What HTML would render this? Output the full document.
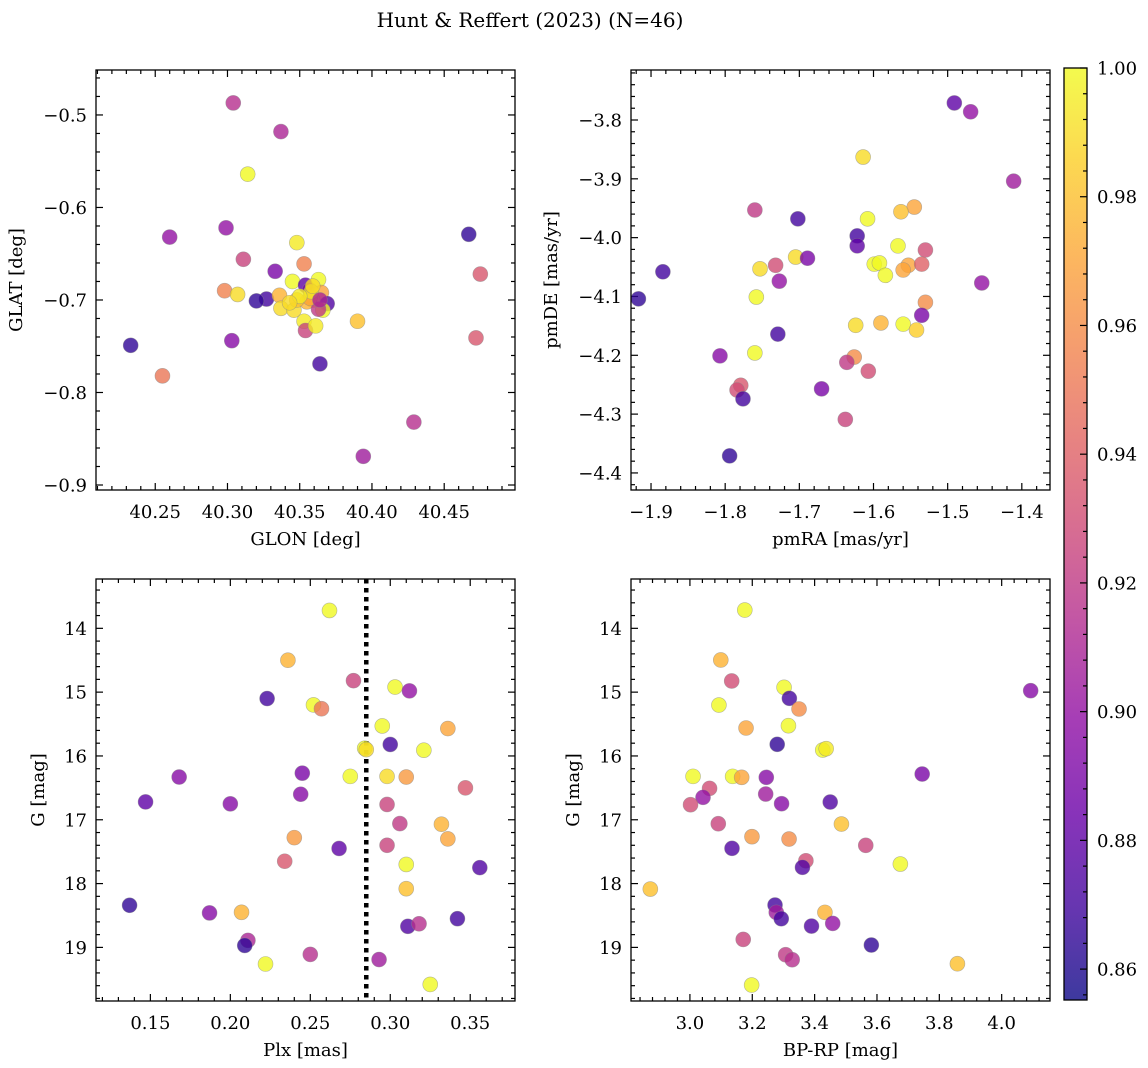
<!DOCTYPE html>
<html><head><meta charset="utf-8">
<style>
html,body{margin:0;padding:0;background:#fff;}
svg{display:block;font-family:"DejaVu Serif","Liberation Serif",serif;}
</style></head>
<body>
<svg id="fig" width="1148" height="1068" viewBox="0 0 1148 1068" xmlns="http://www.w3.org/2000/svg">
<rect width="1148" height="1068" fill="#fff"/>
<text x="530" y="27" font-size="20" text-anchor="middle">Hunt &amp; Reffert (2023) (N=46)</text>
</svg>
<script>
// ---- data (membership probability colours) ----
const p1Glon = [40.304,40.337,40.314,40.260,40.299,40.348,40.311,40.353,40.333,40.298,40.307,40.327,40.320,40.336,40.337,40.346,40.345,40.354,40.357,40.363,40.365,40.369,40.366,40.353,40.354,40.361,40.359,40.355,40.363,40.357,40.390,40.364,40.233,40.255,40.303,40.394,40.429,40.467,40.475,40.472,40.358,40.348,40.364,40.350,40.359,40.343];
const p1Glat = [-0.487,-0.518,-0.564,-0.632,-0.622,-0.638,-0.656,-0.661,-0.669,-0.690,-0.694,-0.699,-0.701,-0.695,-0.709,-0.711,-0.680,-0.684,-0.689,-0.678,-0.692,-0.704,-0.711,-0.723,-0.733,-0.728,-0.700,-0.702,-0.710,-0.698,-0.723,-0.769,-0.749,-0.782,-0.744,-0.869,-0.832,-0.629,-0.672,-0.741,-0.691,-0.700,-0.700,-0.696,-0.685,-0.703];
const p1Prob = [0.915,0.91,1.0,0.90,0.90,0.995,0.925,0.955,0.89,0.955,0.99,0.87,0.865,0.975,0.99,0.99,1.0,0.88,0.89,1.0,0.97,0.875,1.0,0.995,0.925,0.995,0.98,0.975,0.92,0.97,0.98,0.87,0.865,0.95,0.895,0.905,0.915,0.865,0.935,0.935,0.995,0.98,0.91,0.995,0.99,0.99];

const p2PmRA = [-1.491,-1.469,-1.411,-1.614,-1.545,-1.563,-1.608,-1.702,-1.760,-1.622,-1.622,-1.567,-1.530,-1.705,-1.689,-1.732,-1.753,-1.599,-1.592,-1.553,-1.535,-1.560,-1.584,-1.884,-1.758,-1.727,-1.530,-1.454,-1.917,-1.535,-1.590,-1.560,-1.542,-1.624,-1.729,-1.760,-1.807,-1.626,-1.636,-1.607,-1.670,-1.779,-1.784,-1.776,-1.638,-1.794];
const p2PmDE = [-3.771,-3.786,-3.904,-3.863,-3.948,-3.956,-3.968,-3.968,-3.953,-3.997,-4.014,-4.014,-4.021,-4.033,-4.035,-4.047,-4.053,-4.045,-4.043,-4.047,-4.045,-4.055,-4.064,-4.058,-4.101,-4.074,-4.110,-4.077,-4.104,-4.132,-4.145,-4.147,-4.157,-4.149,-4.164,-4.196,-4.201,-4.203,-4.212,-4.227,-4.257,-4.251,-4.259,-4.274,-4.309,-4.371];
const p2Prob = [0.88,0.90,0.905,0.99,0.97,0.98,1.0,0.87,0.92,0.87,0.88,1.0,0.93,0.99,0.89,0.93,0.99,1.0,1.0,0.97,0.94,0.97,1.0,0.87,1.0,0.90,0.96,0.90,0.865,0.89,0.975,1.0,0.985,0.99,0.87,1.0,0.895,0.96,0.92,0.93,0.89,0.935,0.93,0.87,0.925,0.865];

const p3Plx = [0.262,0.236,0.277,0.223,0.252,0.257,0.303,0.312,0.295,0.336,0.284,0.300,0.321,0.168,0.275,0.298,0.310,0.245,0.147,0.200,0.244,0.298,0.347,0.306,0.332,0.240,0.298,0.336,0.268,0.234,0.310,0.356,0.310,0.137,0.187,0.207,0.211,0.209,0.222,0.250,0.293,0.325,0.311,0.318,0.342,0.285];
const p3G = [13.72,14.50,14.82,15.10,15.20,15.26,14.92,14.98,15.53,15.57,15.88,15.82,15.91,16.33,16.32,16.32,16.33,16.27,16.72,16.75,16.60,16.76,16.50,17.06,17.07,17.28,17.40,17.30,17.45,17.65,17.70,17.75,18.08,18.34,18.46,18.45,18.89,18.97,19.26,19.11,19.19,19.58,18.67,18.63,18.55,15.90];
const p3Prob = [1.0,0.975,0.925,0.87,1.0,0.95,1.0,0.90,1.0,0.97,1.0,0.87,1.0,0.895,1.0,0.99,0.965,0.89,0.88,0.895,0.895,0.925,0.935,0.92,0.975,0.965,0.925,0.97,0.88,0.935,1.0,0.875,0.98,0.865,0.895,0.975,0.91,0.865,1.0,0.915,0.905,1.0,0.875,0.915,0.87,0.99];
const p3Cut = 0.285;

const p4BpRp = [3.176,3.099,3.134,3.302,3.319,3.350,4.093,3.093,3.316,3.180,3.280,3.426,3.437,3.745,3.010,3.137,3.166,3.245,3.063,3.042,3.002,3.243,3.294,3.450,3.486,3.091,3.199,3.318,3.564,3.135,3.372,3.361,3.675,2.873,3.273,3.277,3.293,3.433,3.390,3.458,3.582,3.171,3.307,3.328,3.858,3.198];
const p4G = [13.713,14.496,14.825,14.925,15.097,15.264,14.977,15.202,15.526,15.562,15.818,15.907,15.886,16.283,16.320,16.320,16.335,16.335,16.508,16.649,16.764,16.597,16.748,16.722,17.067,17.062,17.265,17.302,17.401,17.448,17.642,17.746,17.694,18.086,18.336,18.451,18.551,18.451,18.666,18.624,18.963,18.875,19.115,19.193,19.256,19.590];
const p4Prob = [1.0,0.975,0.93,1.0,0.87,0.96,0.895,1.0,1.0,0.97,0.865,1.0,0.995,0.89,1.0,1.0,0.97,0.895,0.93,0.9,0.93,0.905,0.895,0.875,0.98,0.925,0.965,0.96,0.925,0.875,0.93,0.875,1.0,0.98,0.87,0.905,0.87,0.975,0.875,0.9,0.865,0.925,0.92,0.915,0.98,1.0];

const p1XTicks = [40.25,40.30,40.35,40.40,40.45];
const p1YTicks = [-0.5,-0.6,-0.7,-0.8,-0.9];
const p2XTicks = [-1.9,-1.8,-1.7,-1.6,-1.5,-1.4];
const p2YTicks = [-3.8,-3.9,-4.0,-4.1,-4.2,-4.3,-4.4];
const p3XTicks = [0.15,0.20,0.25,0.30,0.35];
const gTicks = [14,15,16,17,18,19];
const p4XTicks = [3.0,3.2,3.4,3.6,3.8,4.0];
const cbTicks = [0.86,0.88,0.90,0.92,0.94,0.96,0.98,1.00];

const CMIN = 0.8552, CMAX = 1.0;
const FS = 18;
const NS = 'http://www.w3.org/2000/svg';
const svg = document.getElementById('fig');
const stops = [[13,8,135],[65,4,157],[106,0,168],[143,13,164],[177,42,144],[204,71,120],[225,100,98],[242,132,75],[252,166,54],[252,206,37],[240,249,33]];
function plasma(t){t=Math.max(0,Math.min(1,t));const f=t*10;const i=Math.min(9,Math.floor(f));const r=f-i;const a=stops[i],b=stops[i+1];
 return 'rgb('+a.map((v,k)=>Math.round(v+(b[k]-v)*r)).join(',')+')';}
function colorOf(p){return plasma((p-CMIN)/(CMAX-CMIN));}
function mk(tag,attrs,parent){const e=document.createElementNS(NS,tag);for(const k in attrs)e.setAttribute(k,attrs[k]);(parent||svg).appendChild(e);return e;}
function fmt(v,d){const s=Math.abs(v).toFixed(d);return (v<0?'\u2212':'')+s;}

function panel(cfg){
 const g=mk('g',{});
 
 
 const {x0,x1,y0,y1}=cfg;
 const sx=v=>x0+(v-cfg.xd[0])/(cfg.xd[1]-cfg.xd[0])*(x1-x0);
 const sy=cfg.yInv?(v=>y0+(v-cfg.yd[0])/(cfg.yd[1]-cfg.yd[0])*(y1-y0)):(v=>y1-(v-cfg.yd[0])/(cfg.yd[1]-cfg.yd[0])*(y1-y0));
 const tk=mk('g',{stroke:'#000','stroke-width':1.2},g);
 
 
 const lo=Math.min(...cfg.xd),hi=Math.max(...cfg.xd);
 for(let v=Math.ceil(lo/cfg.xm-1e-6)*cfg.xm;v<=hi+1e-9;v+=cfg.xm){const px=sx(v);
   const major=cfg.xt.some(t=>Math.abs(t-v)<cfg.xm/3);const L=major?7:4;
   mk('line',{x1:px,x2:px,y1:y1,y2:y1-L},tk);mk('line',{x1:px,x2:px,y1:y0,y2:y0+L},tk);}
 const ylo=Math.min(...cfg.yd),yhi=Math.max(...cfg.yd);
 for(let v=Math.ceil(ylo/cfg.ym-1e-6)*cfg.ym;v<=yhi+1e-9;v+=cfg.ym){const py=sy(v);
   const major=cfg.yt.some(t=>Math.abs(t-v)<cfg.ym/3);const L=major?7:4;
   mk('line',{x1:x0,x2:x0+L,y1:py,y2:py},tk);mk('line',{x1:x1,x2:x1-L,y1:py,y2:py},tk);}
 cfg.xt.forEach(t=>{const e=mk('text',{x:sx(t),y:y1+28,'font-size':FS,'text-anchor':'middle'},g);e.textContent=fmt(t,cfg.xdec);
   
   });
 cfg.yt.forEach(t=>{const e=mk('text',{x:x0-9,y:sy(t)+6.5,'font-size':FS,'text-anchor':'end'},g);e.textContent=fmt(t,cfg.ydec);
   
   });
 const xl=mk('text',{x:(x0+x1)/2,y:y1+55,'font-size':FS,'text-anchor':'middle'},g);xl.textContent=cfg.xlabel;
 
 
 const yx=cfg.ylx;const yc=(y0+y1)/2;
 const yl=mk('text',{x:yx,y:yc,'font-size':FS,'text-anchor':'middle',transform:'rotate(-90 '+yx+' '+yc+')'},g);yl.textContent=cfg.ylabel;
 
 
 if(cfg.vline!==undefined){const l=mk('line',{x1:sx(cfg.vline),x2:sx(cfg.vline),y1:y0,y2:y1,stroke:'#000','stroke-width':4.5,'stroke-dasharray':'4.5 4.5'},g);
   
   }
 cfg.xs.forEach((v,i)=>{const c=mk('circle',{cx:sx(v),cy:sy(cfg.ys[i]),r:7.5,fill:colorOf(cfg.cs[i]),'fill-opacity':0.8,stroke:'#888','stroke-opacity':0.6,'stroke-width':0.6},g);
   
   });
 const fr=mk('rect',{x:x0,y:y0,width:x1-x0,height:y1-y0,fill:'none',stroke:'#000','stroke-width':1.3},g);
 
 
}

panel({name:'glon-glat-panel',x0:96,x1:515,y0:70,y1:490,xd:[40.209,40.499],yd:[-0.9054,-0.4514],xt:p1XTicks,yt:p1YTicks,xm:0.01,ym:0.02,xdec:2,ydec:1,xlabel:'GLON [deg]',ylabel:'GLAT [deg]',ylx:22,xs:p1Glon,ys:p1Glat,cs:p1Prob});
panel({name:'proper-motion-panel',x0:631,x1:1050,y0:70,y1:490,xd:[-1.927,-1.362],yd:[-4.429,-3.715],xt:p2XTicks,yt:p2YTicks,xm:0.02,ym:0.02,xdec:1,ydec:1,xlabel:'pmRA [mas/yr]',ylabel:'pmDE [mas/yr]',ylx:557,xs:p2PmRA,ys:p2PmDE,cs:p2Prob});
panel({name:'parallax-mag-panel',x0:96,x1:515,y0:579,y1:1001,xd:[0.116,0.378],yd:[13.227,19.84],yInv:true,xt:p3XTicks,yt:gTicks,xm:0.01,ym:0.2,xdec:2,ydec:0,xlabel:'Plx [mas]',ylabel:'G [mag]',ylx:44,vline:p3Cut,xs:p3Plx,ys:p3G,cs:p3Prob});
panel({name:'cmd-panel',x0:631,x1:1050,y0:579,y1:1001,xd:[2.811,4.155],yd:[13.227,19.84],yInv:true,xt:p4XTicks,yt:gTicks,xm:0.04,ym:0.2,xdec:1,ydec:0,xlabel:'BP-RP [mag]',ylabel:'G [mag]',ylx:579,xs:p4BpRp,ys:p4G,cs:p4Prob});

// colorbar
(function(){
 const cx0=1064,cx1=1087,cy0=68,cy1=1000;
 const cb=mk('g',{});
 
 
 const defs=mk('defs',{},cb);
 const lg=mk('linearGradient',{id:'cbg',x1:0,y1:1,x2:0,y2:0},defs);
 for(let i=0;i<=20;i++){mk('stop',{offset:i/20,'stop-color':plasma(i/20),'stop-opacity':0.8},lg);}
 mk('rect',{x:cx0,y:cy0,width:cx1-cx0,height:cy1-cy0,fill:'url(#cbg)',stroke:'#000','stroke-width':1.3},cb);
 const sy=v=>cy1-(v-CMIN)/(CMAX-CMIN)*(cy1-cy0);
 for(let v=0.856;v<=1.0001;v+=0.004){const py=sy(v);const major=cbTicks.some(t=>Math.abs(t-v)<0.001);
   mk('line',{x1:cx1,x2:cx1-(major?7:4),y1:py,y2:py,stroke:'#000','stroke-width':1.2},cb);}
 cbTicks.forEach(t=>{const e=mk('text',{x:cx1+10,y:sy(t)+6.5,'font-size':FS,'text-anchor':'start'},cb);e.textContent=t.toFixed(2);
   
   });
})();
</script>
</body></html>
